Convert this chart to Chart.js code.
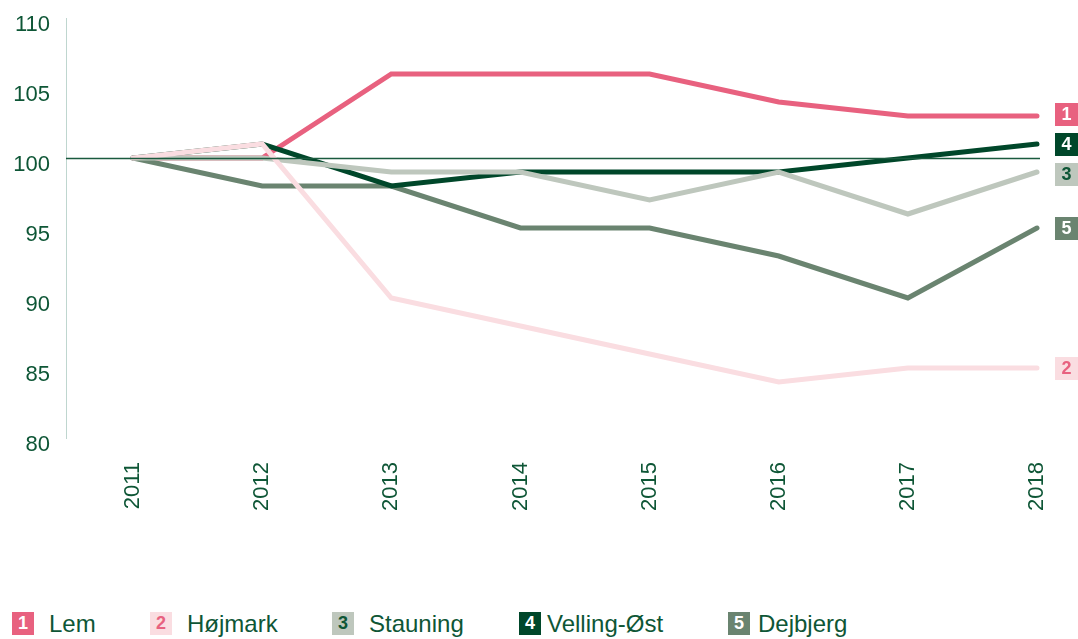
<!DOCTYPE html>
<html>
<head>
<meta charset="utf-8">
<script src="https://cdn.jsdelivr.net/npm/chart.js@4.4.0/dist/chart.umd.min.js"></script>
<style>
  body { margin: 0; background: #fff; font-family: "Liberation Sans", Arial, sans-serif; }
  #wrap { position: relative; width: 1078px; height: 639px; }
  canvas { position: absolute; left: 0; top: 0; }
  .lg-box { position: absolute; top: 612px; width: 22px; height: 23px; font: bold 18px "Liberation Sans", Arial, sans-serif; text-align: center; line-height: 23px; }
  .lg-text { position: absolute; top: 610px; font-size: 24px; line-height: 28px; color: #0e5636; white-space: nowrap; }
</style>
</head>
<body>
<div id="wrap">
  <canvas id="chart" width="1078" height="600"></canvas>
  <div id="legend"></div>
</div>
<script>
const years = [2011, 2012, 2013, 2014, 2015, 2016, 2017, 2018];
const lem = [100, 100, 106, 106, 106, 104, 103, 103];
const hojmark = [100, 101, 90, 88, 86, 84, 85, 85];
const stauning = [100, 100, 99, 99, 97, 99, 96, 99];
const velling = [100, 101, 98, 99, 99, 99, 100, 101];
const dejbjerg = [100, 98, 98, 95, 95, 93, 90, 95];
const yTicks = [80, 85, 90, 95, 100, 105, 110];

const textColor = '#0e5636';

const series = [
  { name: 'Lem', num: '1', values: lem, color: '#e8617f', badgeText: '#ffffff', order: 4 },
  { name: 'Højmark', num: '2', values: hojmark, color: '#fadde1', badgeText: '#e8617f', order: 0 },
  { name: 'Stauning', num: '3', values: stauning, color: '#bec7bd', badgeText: '#0e5636', order: 1 },
  { name: 'Velling-Øst', num: '4', values: velling, color: '#00472a', badgeText: '#ffffff', order: 2 },
  { name: 'Dejbjerg', num: '5', values: dejbjerg, color: '#6a8470', badgeText: '#ffffff', order: 3 }
];

// legend (html, positions follow the original)
const legendLeft = [12, 150, 332, 519, 728];
const legendTextLeft = [49, 187, 369, 547, 758];
const legend = document.getElementById('legend');
series.forEach((s, i) => {
  const box = document.createElement('div');
  box.className = 'lg-box';
  box.style.left = legendLeft[i] + 'px';
  box.style.background = s.color;
  box.style.color = s.badgeText;
  box.textContent = s.num;
  legend.appendChild(box);
  const txt = document.createElement('div');
  txt.className = 'lg-text';
  txt.style.left = legendTextLeft[i] + 'px';
  txt.textContent = s.name;
  legend.appendChild(txt);
});

// reference line at 100 + number badges at the right end
const extras = {
  id: 'extras',
  afterDatasetsDraw(chart) {
    const { ctx, chartArea, scales } = chart;
    const x = scales.x, y = scales.y;
    const yRef = Math.round(y.getPixelForValue(100)) + 0.5;
    ctx.save();
    ctx.strokeStyle = '#1a5a3e';
    ctx.lineWidth = 1.3;
    ctx.beginPath();
    ctx.moveTo(chartArea.left, yRef);
    ctx.lineTo(x.getPixelForValue(years[years.length - 1]) + 3, yRef);
    ctx.stroke();

    const items = series.map(s => ({ s, p: y.getPixelForValue(s.values[s.values.length - 1]) }));
    items.sort((a, b) => a.p - b.p);
    const gap = 30;
    for (let k = 0; k < 50; k++) {
      for (let i = 1; i < items.length; i++) {
        const d = items[i].p - items[i - 1].p;
        if (d < gap) {
          const m = (gap - d) / 2;
          items[i - 1].p -= m;
          items[i].p += m;
        }
      }
    }
    ctx.font = 'bold 18px "Liberation Sans", Arial, sans-serif';
    ctx.textAlign = 'center';
    ctx.textBaseline = 'middle';
    items.forEach(it => {
      const bx = 1055, by = Math.round(it.p) - 11;
      ctx.fillStyle = it.s.color;
      ctx.fillRect(bx, by, 23, 23);
      ctx.fillStyle = it.s.badgeText;
      ctx.fillText(it.s.num, bx + 11.5, by + 12.5);
    });
    ctx.restore();
  }
};

const ctx = document.getElementById('chart').getContext('2d');
new Chart(ctx, {
  type: 'line',
  data: {
    datasets: series.map(s => ({
      label: s.name,
      data: years.map((yr, i) => ({ x: yr, y: s.values[i] })),
      borderColor: s.color,
      backgroundColor: s.color,
      borderWidth: 5,
      borderCapStyle: 'round',
      pointRadius: 0,
      tension: 0,
      fill: false,
      order: s.order
    }))
  },
  options: {
    responsive: false,
    animation: false,
    layout: { padding: { top: 18, right: 33, left: 0, bottom: 0 } },
    plugins: {
      legend: { display: false },
      tooltip: { enabled: false }
    },
    scales: {
      x: {
        type: 'linear',
        min: 2010.481,
        max: 2018.062,
        grid: { display: false, drawTicks: false },
        border: { display: false },
        afterBuildTicks: (scale) => { scale.ticks = years.map(v => ({ value: v })); },
        afterFit: (scale) => { scale.height = 162; scale.paddingLeft = 0; scale.paddingRight = 0; },
        ticks: {
          minRotation: 90,
          maxRotation: 90,
          padding: 24,
          color: textColor,
          font: { family: '"Liberation Sans", Arial, sans-serif', size: 22 },
          callback: (v) => String(v)
        }
      },
      y: {
        min: 80,
        max: 110,
        grid: { display: false, drawTicks: false },
        border: { display: true, color: '#bfd6cf', width: 1 },
        afterBuildTicks: (scale) => { scale.ticks = yTicks.map(v => ({ value: v })); },
        afterFit: (scale) => { scale.width = 66; scale.paddingTop = 0; scale.paddingBottom = 0; },
        ticks: {
          padding: 16,
          labelOffset: 7,
          color: textColor,
          font: { family: '"Liberation Sans", Arial, sans-serif', size: 22 },
          callback: (v) => String(v)
        }
      }
    }
  },
  plugins: [extras]
});
</script>
</body>
</html>
